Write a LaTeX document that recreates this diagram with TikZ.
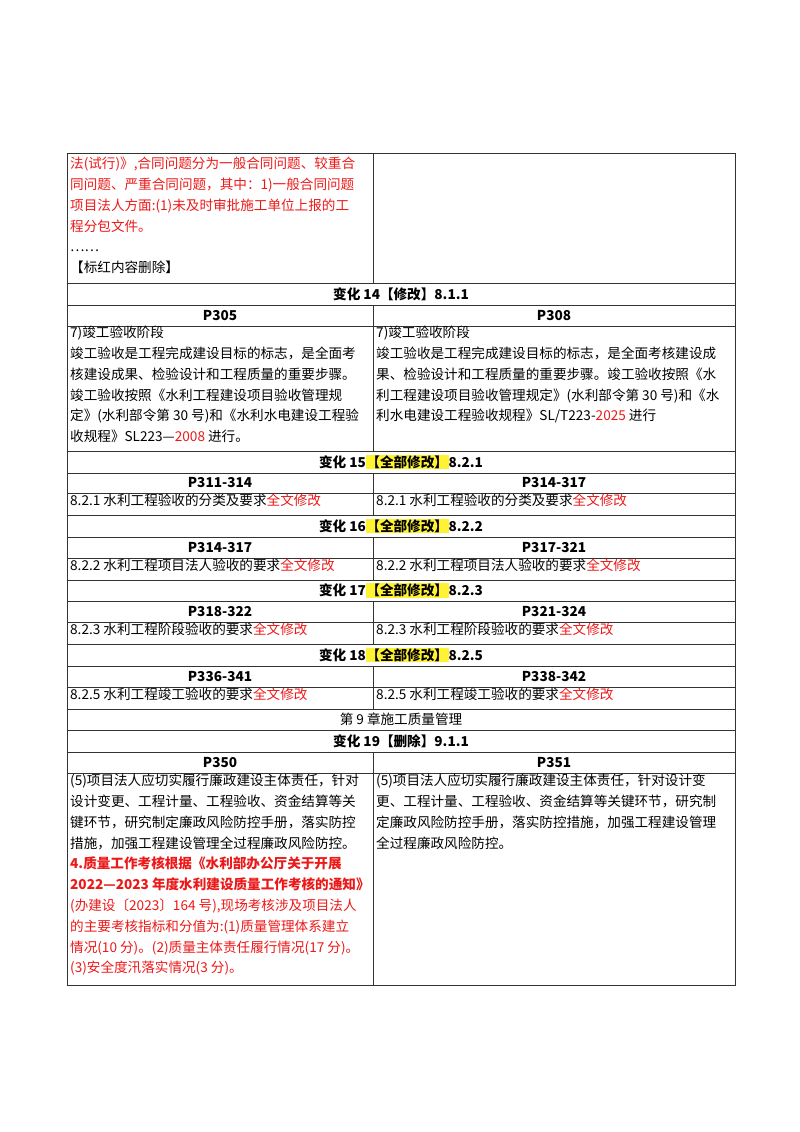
\documentclass[tikz,border=0pt]{standalone}
\usepackage{fontspec}
\setmainfont{Noto Sans CJK SC}
\newfontfamily\cjkb{Noto Sans CJK SC Bold}
\definecolor{rd}{rgb}{0.93,0.1,0.1}
\definecolor{hl}{rgb}{1,0.95,0.2}
\newcommand{\hy}[1]{{\setlength{\fboxsep}{0.5pt}\colorbox{hl}{#1}}}
\begin{document}
\begin{tikzpicture}[x=1pt,y=-1pt,
  txt/.style={anchor=north west,inner sep=0pt,align=left,font=\fontsize{13.6}{20.8}\selectfont},
  hd/.style={inner sep=0pt,font=\fontsize{13.6}{16}\selectfont\bfseries},
  ln/.style={line width=0.8pt,draw=black!80}]
\fill[white] (0,0) rectangle (800,1132);
\useasboundingbox (0,0) rectangle (800,1132);
% outer and horizontal lines
\draw[ln] (67,153) rectangle (735,985);
\foreach \y in {283,305,326,451,473,493,515,537,558,580,601,622,644,666,687,709,730,752,773}
  \draw[ln] (67,\y) -- (735,\y);
% vertical middle lines
\draw[ln] (373,153) -- (373,283);
\draw[ln] (373,305) -- (373,451);
\draw[ln] (373,473) -- (373,515);
\draw[ln] (373,537) -- (373,580);
\draw[ln] (373,601) -- (373,644);
\draw[ln] (373,666) -- (373,709);
\draw[ln] (373,752) -- (373,985);
% row 1
\node[txt,text=rd] (r1) at (70,157) {法(试行)》,合同问题分为一般合同问题、较重合\\同问题、严重合同问题，其中：1)一般合同问题\\项目法人方面:(1)未及时审批施工单位上报的工\\程分包文件。\\\textcolor{black}{……}\\\textcolor{black}{【标红内容删除】}};
% change 14
\node[hd] (h14) at (401,294) {变化 14【修改】8.1.1};
\node[hd] (p305) at (220,315.5) {P305};
\node[hd] (p308) at (554,315.5) {P308};
\node[txt] (t305) at (70,326) {7)竣工验收阶段\\竣工验收是工程完成建设目标的标志，是全面考\\核建设成果、检验设计和工程质量的重要步骤。\\竣工验收按照《水利工程建设项目验收管理规\\定》(水利部令第 30 号)和《水利水电建设工程验\\收规程》SL223—\textcolor{rd}{2008} 进行。};
\node[txt] (t308) at (376,326) {7)竣工验收阶段\\竣工验收是工程完成建设目标的标志，是全面考核建设成\\果、检验设计和工程质量的重要步骤。竣工验收按照《水\\利工程建设项目验收管理规定》(水利部令第 30 号)和《水\\利水电建设工程验收规程》SL/T223-\textcolor{rd}{2025} 进行};
% change 15
\node[hd] (h15) at (401,462) {变化 15\hy{【全部修改】}8.2.1};
\node[hd] (p311) at (220,483) {P311-314};
\node[hd] (p314) at (554,483) {P314-317};
\node[txt] (t311) at (70,494) {8.2.1 水利工程验收的分类及要求\textcolor{rd}{全文修改}};
\node[txt] (t314) at (376,494) {8.2.1 水利工程验收的分类及要求\textcolor{rd}{全文修改}};
% change 16
\node[hd] (h16) at (401,526) {变化 16\hy{【全部修改】}8.2.2};
\node[hd] (p314b) at (220,547.5) {P314-317};
\node[hd] (p317) at (554,547.5) {P317-321};
\node[txt] (t314b) at (70,559) {8.2.2 水利工程项目法人验收的要求\textcolor{rd}{全文修改}};
\node[txt] (t317) at (376,559) {8.2.2 水利工程项目法人验收的要求\textcolor{rd}{全文修改}};
% change 17
\node[hd] (h17) at (401,590.5) {变化 17\hy{【全部修改】}8.2.3};
\node[hd] (p318) at (220,611.5) {P318-322};
\node[hd] (p321) at (554,611.5) {P321-324};
\node[txt] (t318) at (70,623) {8.2.3 水利工程阶段验收的要求\textcolor{rd}{全文修改}};
\node[txt] (t321) at (376,623) {8.2.3 水利工程阶段验收的要求\textcolor{rd}{全文修改}};
% change 18
\node[hd] (h18) at (401,655) {变化 18\hy{【全部修改】}8.2.5};
\node[hd] (p336) at (220,676.5) {P336-341};
\node[hd] (p338) at (554,676.5) {P338-342};
\node[txt] (t336) at (70,688) {8.2.5 水利工程竣工验收的要求\textcolor{rd}{全文修改}};
\node[txt] (t338) at (376,688) {8.2.5 水利工程竣工验收的要求\textcolor{rd}{全文修改}};
% chapter 9
\node[inner sep=0pt,font=\fontsize{13.6}{16}\selectfont] (ch9) at (401,719.5) {第 9 章施工质量管理};
% change 19
\node[hd] (h19) at (401,741) {变化 19【删除】9.1.1};
\node[hd] (p350) at (220,762.5) {P350};
\node[hd] (p351) at (554,762.5) {P351};
\node[txt] (t350) at (70,774) {(5)项目法人应切实履行廉政建设主体责任，针对\\设计变更、工程计量、工程验收、资金结算等关\\键环节，研究制定廉政风险防控手册，落实防控\\措施，加强工程建设管理全过程廉政风险防控。\\\textcolor{rd}{\bfseries 4.质量工作考核根据《水利部办公厅关于开展}\\\textcolor{rd}{\bfseries 2022—2023 年度水利建设质量工作考核的通知》}\\\textcolor{rd}{(办建设〔2023〕164 号),现场考核涉及项目法人}\\\textcolor{rd}{的主要考核指标和分值为:(1)质量管理体系建立}\\\textcolor{rd}{情况(10 分)。(2)质量主体责任履行情况(17 分)。}\\\textcolor{rd}{(3)安全度汛落实情况(3 分)。}};
\node[txt] (t351) at (376,774) {(5)项目法人应切实履行廉政建设主体责任，针对设计变\\更、工程计量、工程验收、资金结算等关键环节，研究制\\定廉政风险防控手册，落实防控措施，加强工程建设管理\\全过程廉政风险防控。};
\end{tikzpicture}
\end{document}
